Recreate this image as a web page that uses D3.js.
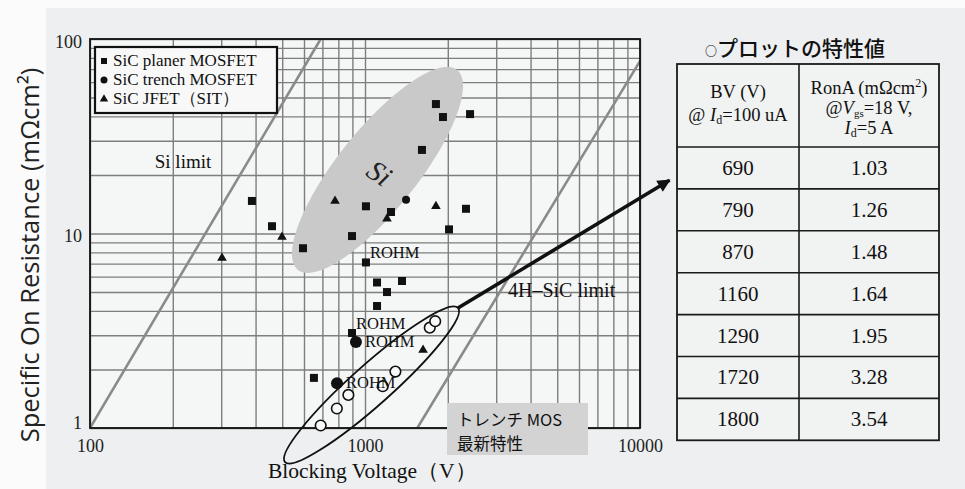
<!DOCTYPE html>
<html>
<head>
<meta charset="utf-8">
<script src="https://cdn.jsdelivr.net/npm/d3@7"></script>
<style>
  body { margin: 0; background: #edeff0; }
  svg { display: block; }
</style>
</head>
<body>
<div id="chart"></div>
<script>
// values: [blocking voltage V, specific on resistance mOhm cm2]
const planerMosfet = [
  [388, 14.7], [459, 10.9], [595, 8.4], [1811, 46.3], [1921, 39.7], [2410, 41.1],
  [1611, 26.9], [1008, 13.8], [1243, 12.9], [2329, 13.4], [2021, 10.5], [897, 9.7],
  [1008, 7.1], [1106, 5.6], [1363, 5.7], [1202, 5.0], [1106, 4.24], [897, 3.08], [652, 1.81]
]
const trenchMosfet = [[1410, 14.9]]
const trenchRohm = [[927, 2.77], [791, 1.70]]
const jfetSit = [[302, 7.48], [499, 9.6], [778, 14.7], [1202, 11.9], [1811, 13.8], [1626, 2.52]]

// table of the open circles
const tableBV = [690, 790, 870, 1160, 1290, 1720, 1800]
const tableRonA = [1.03, 1.26, 1.48, 1.64, 1.95, 3.28, 3.54]

const xTicks = [100, 1000, 10000]
const yTicks = [1, 10, 100]
const legendLabels = ["SiC planer MOSFET", "SiC trench MOSFET", "SiC  JFET（SIT）"]

const siLimit = [[100, 1], [690, 100]]
const sicLine = [[1550, 1], [10000, 77]]
const siRegion = [[570, 6.5], [2163, 69.3]]
const trenchRegion = [[512, 0.668], [2178, 4.14]]
const arrowPath = [[2178, 4.14], [12800, 18.8]]
const rohmLabels = [
  {at: [1008, 7.1], pos: "above"},
  {at: [897, 3.08], pos: "above"},
  {at: [927, 2.77], pos: "right"},
  {at: [791, 1.70], pos: "right"}
]

const width = 965, height = 489
const margin = {top: 39, left: 90}
const w = 550, h = 389
const serif = "'Liberation Serif', 'DejaVu Serif', serif"
const jp = "'Noto Sans CJK JP', sans-serif"

const svg = d3.select("#chart")
  .append("svg")
  .attr("width", width)
  .attr("height", height)

// paper background
svg.append("rect").attr("width", width).attr("height", height).attr("fill", "#edeff0")
svg.append("rect").attr("width", width).attr("height", 8).attr("fill", "#fbfbfb")
svg.append("rect").attr("width", 46).attr("height", height).attr("fill", "#fbfbfb")

const g = svg.append("g")
  .attr("transform", `translate(${margin.left}, ${margin.top})`)

g.append("clipPath")
  .attr("id", "clip")
  .append("rect")
  .attr("width", w)
  .attr("height", h)

const xScale = d3.scaleLog().domain([100, 10000]).range([0, w])
const yScale = d3.scaleLog().domain([1, 100]).range([h, 0])

g.append("rect").attr("width", w).attr("height", h).attr("fill", "#f5f6f6")

// log grid
const minorX = d3.range(2, 4).flatMap(e => d3.range(1, 10).map(m => m * 10 ** e)).concat([10000])
const minorY = d3.range(0, 2).flatMap(e => d3.range(1, 10).map(m => m * 10 ** e)).concat([100])

g.append("g")
  .attr("class", "grid")
  .attr("transform", `translate(0, ${h})`)
  .call(d3.axisBottom(xScale).tickValues(minorX).tickSize(-h).tickFormat(""))
g.append("g")
  .attr("class", "grid")
  .call(d3.axisLeft(yScale).tickValues(minorY).tickSize(-w).tickFormat(""))
g.selectAll(".grid .domain").remove()
g.selectAll(".grid line").attr("stroke", "#7e7e7e").attr("stroke-width", 1.4)

const plot = g.append("g").attr("clip-path", "url(#clip)")

function ellipse(parent, ends, halfWidth) {
  const p0 = [xScale(ends[0][0]), yScale(ends[0][1])]
  const p1 = [xScale(ends[1][0]), yScale(ends[1][1])]
  const cx = (p0[0] + p1[0]) / 2, cy = (p0[1] + p1[1]) / 2
  const len = Math.hypot(p1[0] - p0[0], p1[1] - p0[1]) / 2
  const ang = Math.atan2(p1[1] - p0[1], p1[0] - p0[0]) * 180 / Math.PI
  return parent.append("ellipse")
    .attr("cx", 0).attr("cy", 0)
    .attr("rx", len).attr("ry", halfWidth)
    .attr("transform", `translate(${cx}, ${cy}) rotate(${ang})`)
}

// Si region
ellipse(plot, siRegion, 40).attr("fill", "#c9c9c9")

const line = d3.line().x(d => xScale(d[0])).y(d => yScale(d[1]))

plot.append("path").attr("d", line(siLimit))
  .attr("stroke", "#8a8a8a").attr("stroke-width", 2.6).attr("fill", "none")
plot.append("path").attr("d", line(sicLine))
  .attr("stroke", "#8a8a8a").attr("stroke-width", 2.6).attr("fill", "none")

g.append("text")
  .attr("transform", `translate(${xScale(1130)}, ${yScale(20.5)}) rotate(35)`)
  .attr("font-family", serif).attr("font-style", "italic").attr("font-size", 29)
  .attr("fill", "#222").attr("text-anchor", "middle").attr("dy", "0.35em").text("Si")

// frame
g.append("rect").attr("width", w).attr("height", h)
  .attr("fill", "none").attr("stroke", "#111").attr("stroke-width", 1.8)

// tick labels
const xAxis = g.append("g")
  .attr("transform", `translate(0, ${h})`)
  .call(d3.axisBottom(xScale).tickValues(xTicks).tickSize(0).tickPadding(11).tickFormat(d3.format("d")))
const yAxis = g.append("g")
  .call(d3.axisLeft(yScale).tickValues(yTicks).tickSize(0).tickPadding(8).tickFormat(d3.format("d")))
g.selectAll(".domain").remove()
g.selectAll(".tick text")
  .attr("font-family", serif).attr("font-size", 18).attr("fill", "#222")
// the lowest label sits a little higher so it clears the "100" below it
yAxis.selectAll(".tick text").attr("dy", d => d === 1 ? "0.05em" : "0.45em")

// legend
const legend = g.append("g").attr("transform", "translate(5, 8)")
legend.append("rect").attr("width", 182).attr("height", 66)
  .attr("fill", "#f8f8f8").attr("stroke", "#111").attr("stroke-width", 2.2)
legend.selectAll("text.lab")
  .data(legendLabels)
  .join("text")
  .attr("class", "lab")
  .attr("x", 18).attr("y", (d, i) => 19 + i * 19)
  .attr("font-family", serif).attr("font-size", 17).attr("fill", "#111")
  .text(d => d)

const symSquare = d3.symbol().type(d3.symbolSquare)
const symTri = d3.symbol().type(d3.symbolTriangle)
legend.append("path").attr("transform", "translate(9, 14)").attr("d", symSquare.size(36)())
legend.append("circle").attr("cx", 9).attr("cy", 33).attr("r", 3.5)
legend.append("path").attr("transform", "translate(9, 52)").attr("d", symTri.size(30)())
legend.selectAll("path, circle").attr("fill", "#111")

// annotations
g.append("text").attr("x", xScale(172)).attr("y", yScale(21.7))
  .attr("font-family", serif).attr("font-size", 19).attr("fill", "#111").text("Si limit")
g.append("text").attr("x", xScale(3311)).attr("y", yScale(4.7))
  .attr("font-family", serif).attr("font-size", 20).attr("fill", "#111").text("4H–SiC limit")

// trench region and arrow
ellipse(g, trenchRegion, 20).attr("fill", "none").attr("stroke", "#111").attr("stroke-width", 1.8)

svg.append("defs").append("marker")
  .attr("id", "head")
  .attr("viewBox", "0 0 10 10")
  .attr("refX", 9).attr("refY", 5)
  .attr("markerWidth", 4.2).attr("markerHeight", 3.6)
  .attr("markerUnits", "strokeWidth")
  .attr("orient", "auto")
  .append("path").attr("d", "M0,0 L10,5 L0,10 Z").attr("fill", "#111")

g.append("path").attr("d", line(arrowPath))
  .attr("stroke", "#111").attr("stroke-width", 3.6).attr("fill", "none")
  .attr("marker-end", "url(#head)")

// points
g.selectAll(".planer")
  .data(planerMosfet)
  .join("path")
  .attr("class", "planer")
  .attr("transform", d => `translate(${xScale(d[0])}, ${yScale(d[1])})`)
  .attr("d", symSquare.size(64)())
  .attr("fill", "#111")

g.selectAll(".jfet")
  .data(jfetSit)
  .join("path")
  .attr("class", "jfet")
  .attr("transform", d => `translate(${xScale(d[0])}, ${yScale(d[1])})`)
  .attr("d", symTri.size(40)())
  .attr("fill", "#111")

g.selectAll(".trench")
  .data(trenchMosfet)
  .join("circle")
  .attr("class", "trench")
  .attr("cx", d => xScale(d[0])).attr("cy", d => yScale(d[1]))
  .attr("r", 4).attr("fill", "#111")

g.selectAll(".rohm")
  .data(trenchRohm)
  .join("circle")
  .attr("class", "rohm")
  .attr("cx", d => xScale(d[0])).attr("cy", d => yScale(d[1]))
  .attr("r", 6).attr("fill", "#111")

g.selectAll(".latest")
  .data(tableBV)
  .join("circle")
  .attr("class", "latest")
  .attr("cx", d => xScale(d)).attr("cy", (d, i) => yScale(tableRonA[i]))
  .attr("r", 5.3).attr("fill", "#f8f8f8").attr("stroke", "#111").attr("stroke-width", 1.6)

g.selectAll(".rohmlab")
  .data(rohmLabels)
  .join("text")
  .attr("class", "rohmlab")
  .attr("x", d => xScale(d.at[0]) + (d.pos === "above" ? 4 : 9))
  .attr("y", d => yScale(d.at[1]) + (d.pos === "above" ? -4 : 5))
  .attr("font-family", serif).attr("font-size", 16.5).attr("fill", "#111")
  .text("ROHM")

// trench MOS box
const tbox = svg.append("g").attr("transform", "translate(447, 403)")
tbox.append("rect").attr("width", 141).attr("height", 52).attr("fill", "#d3d3d3")
tbox.append("text").attr("x", 10).attr("y", 23)
  .attr("font-family", jp).attr("font-size", 16.5).attr("fill", "#111")
  .text("トレンチ MOS")
tbox.append("text").attr("x", 10).attr("y", 47)
  .attr("font-family", jp).attr("font-size", 16.5).attr("fill", "#111")
  .text("最新特性")

// axis titles
svg.append("text")
  .attr("transform", "translate(39, 255) rotate(-90)")
  .attr("text-anchor", "middle")
  .attr("font-family", "'Open Sans', 'Noto Sans', sans-serif").attr("font-size", 25.5).attr("fill", "#222")
  .text("Specific On Resistance (mΩcm²)")
svg.append("text")
  .attr("x", 268).attr("y", 478)
  .attr("font-family", serif).attr("font-size", 21.5).attr("fill", "#111")
  .text("Blocking Voltage（V）")

// table
const tx0 = 677, tx1 = 799, tx2 = 939, ty0 = 64, tyH = 147, rowH = 41.9
const ty1 = tyH + rowH * tableBV.length
const table = svg.append("g")

const title = table.append("text").attr("x", 795).attr("y", 56).attr("text-anchor", "middle")
  .attr("font-family", jp).attr("font-weight", 500).attr("font-size", 21).attr("fill", "#111")
title.append("tspan").attr("font-size", 12).attr("font-weight", 700).text("○")
title.append("tspan").text("プロットの特性値")

table.append("rect").attr("x", tx0).attr("y", ty0).attr("width", tx2 - tx0).attr("height", ty1 - ty0)
  .attr("fill", "#f1f2f2").attr("stroke", "#1a1a1a").attr("stroke-width", 1.8)
table.append("line").attr("x1", tx1).attr("x2", tx1).attr("y1", ty0).attr("y2", ty1)
  .attr("stroke", "#1a1a1a").attr("stroke-width", 1.6)
table.selectAll("line.row")
  .data(d3.range(tableBV.length))
  .join("line")
  .attr("class", "row")
  .attr("x1", tx0).attr("x2", tx2)
  .attr("y1", i => tyH + i * rowH).attr("y2", i => tyH + i * rowH)
  .attr("stroke", "#1a1a1a").attr("stroke-width", 1.6)

const head = table.append("g").attr("font-family", serif).attr("font-size", 18.5).attr("fill", "#111")
  .attr("text-anchor", "middle")
head.append("text").attr("x", (tx0 + tx1) / 2).attr("y", 98).text("BV (V)")
const h2 = head.append("text").attr("x", (tx0 + tx1) / 2).attr("y", 121)
h2.append("tspan").text("@ ")
h2.append("tspan").attr("font-style", "italic").text("I")
h2.append("tspan").attr("font-size", 12).attr("dy", 3).text("d")
h2.append("tspan").attr("dy", -3).text("=100 uA")

const r1 = head.append("text").attr("x", (tx1 + tx2) / 2).attr("y", 94)
r1.append("tspan").text("RonA (mΩcm")
r1.append("tspan").attr("font-size", 12).attr("dy", -7).text("2")
r1.append("tspan").attr("dy", 7).text(")")
const r2 = head.append("text").attr("x", (tx1 + tx2) / 2).attr("y", 114)
r2.append("tspan").text("@")
r2.append("tspan").attr("font-style", "italic").text("V")
r2.append("tspan").attr("font-size", 11).attr("dy", 3).text("gs")
r2.append("tspan").attr("dy", -3).text("=18 V,")
const r3 = head.append("text").attr("x", (tx1 + tx2) / 2).attr("y", 134)
r3.append("tspan").attr("font-style", "italic").text("I")
r3.append("tspan").attr("font-size", 12).attr("dy", 3).text("d")
r3.append("tspan").attr("dy", -3).text("=5 A")

table.selectAll("text.bv")
  .data(tableBV)
  .join("text")
  .attr("class", "bv")
  .attr("x", (tx0 + tx1) / 2).attr("y", (d, i) => tyH + i * rowH + rowH / 2 + 7)
  .attr("text-anchor", "middle").attr("font-family", serif).attr("font-size", 21).attr("fill", "#111")
  .text(d => d)
table.selectAll("text.ron")
  .data(tableRonA)
  .join("text")
  .attr("class", "ron")
  .attr("x", (tx1 + tx2) / 2).attr("y", (d, i) => tyH + i * rowH + rowH / 2 + 7)
  .attr("text-anchor", "middle").attr("font-family", serif).attr("font-size", 21).attr("fill", "#111")
  .text(d => d3.format(".2f")(d))
</script>
</body>
</html>
